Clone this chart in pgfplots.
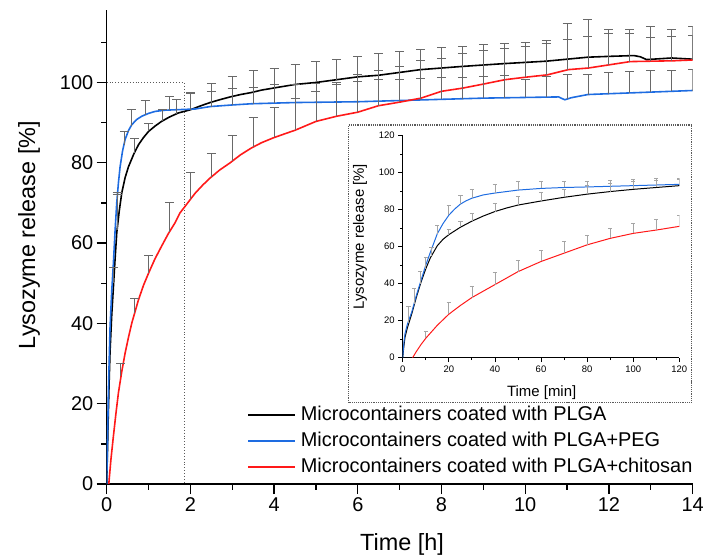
\documentclass[border=0pt]{standalone}
\usepackage{pgfplots}
\pgfplotsset{compat=1.18}
\usepackage{fontspec}
\setmainfont{Liberation Sans}
\definecolor{plgablue}{RGB}{30,108,225}
\definecolor{plgared}{RGB}{255,25,25}
\definecolor{bargray}{RGB}{105,105,105}
\definecolor{insetbar}{RGB}{165,165,165}
\definecolor{boxgray}{RGB}{90,90,90}
\pgfplotsset{
  mainbars/.style={forget plot, draw=none,
    error bars/.cd, y dir=plus, y explicit,
    error bar style={draw=bargray, line width=0.9pt},
    error mark options={rotate=90, draw=bargray, mark size=4.5bp, line width=0.9pt}},
  insetbars/.style={forget plot, draw=none,
    error bars/.cd, y dir=plus, y explicit,
    error bar style={draw=insetbar, line width=0.7pt},
    error mark options={rotate=90, draw=insetbar, mark size=2.2bp, line width=0.7pt}},
}
\begin{document}
\begin{tikzpicture}
\begin{axis}[
  name=main,
  scale only axis,
  width=585.9bp, height=473.8bp,
  xmin=0, xmax=14, ymin=0, ymax=118,
  axis x line=bottom, axis y line=left,
  axis line style={-, line width=1.4pt},
  xtick={0,2,...,14}, minor xtick={1,3,...,13},
  ytick={0,20,...,100}, minor ytick={10,30,...,110},
  tick align=outside,
  major tick length=10bp, minor tick length=5.5bp,
  tick style={black, line width=1.4pt},
  /pgf/number format/assume math mode=true,
  ticklabel style={font=\fontsize{20}{24}\selectfont},
  xlabel={Time [h]}, ylabel={Lysozyme release [\%]},
  label style={font=\fontsize{23.5}{28}\selectfont},
  xlabel style={at={(axis description cs:0.504,-0.1393)}, anchor=base},
  ylabel style={at={(axis description cs:-0.1326,0.5255)}, anchor=center},
  legend style={at={(axis cs:14,2)}, anchor=south east, draw=none, fill=none,
    inner sep=0pt, font=\fontsize{20}{24}\selectfont, row sep=7.8bp, column sep=5bp,
    nodes={inner sep=0pt, text height=14.5bp, text depth=3.5bp}},
  legend cell align=left,
  legend image code/.code={\draw[#1] (0bp,0bp) -- (46.6bp,0bp);},
]
% annotation boxes
\draw[boxgray, dotted, line width=0.9pt] (axis cs:0,100) -- (axis cs:1.85,100) -- (axis cs:1.85,0);
\draw[boxgray, densely dotted, line width=1.2pt] (axis cs:5.77,20.2) rectangle (axis cs:13.98,89.4);

\addplot[black, line width=1.6pt] coordinates {
(0,0) (0.02,9) (0.04,18) (0.06,26) (0.08,33) (0.12,42) (0.16,49) (0.2,56)
(0.24,62.5) (0.3,68) (0.36,72.5) (0.44,76.3) (0.52,79) (0.64,82) (0.76,84.5)
(0.88,86.3) (1.0,87.8) (1.15,89.1) (1.31,90.3) (1.5,91.4) (1.71,92.4) (2.0,93.2)
(2.25,94.2) (2.47,95) (2.7,95.7) (2.95,96.4) (3.2,97) (3.46,97.5) (3.7,98.1)
(3.98,98.6) (4.5,99.5) (5.0,100) (5.5,100.7) (6.0,101.4) (6.5,101.8) (7.0,102.5)
(7.5,103.2) (8.0,103.6) (8.5,104) (9.0,104.35) (9.5,104.7) (10.0,105) (10.5,105.3)
(11.0,105.8) (11.5,106.3) (12.0,106.5) (12.6,106.7) (12.75,106.4) (12.9,105.7)
(13.2,105.9) (13.5,106.1) (14,105.8)};
\addplot[plgablue, line width=1.6pt] coordinates {
(0,0) (0.02,11) (0.04,22.7) (0.06,31) (0.08,39) (0.12,48) (0.16,55) (0.2,63)
(0.24,70) (0.28,75) (0.32,79) (0.38,83) (0.44,85.8) (0.52,88) (0.6,89.5)
(0.72,90.8) (0.84,91.6) (1.0,92.3) (1.16,92.8) (1.4,93.1) (1.64,93.2) (2.12,93.4)
(2.47,94) (3.0,94.4) (3.46,94.7) (4.5,95) (6.0,95.2) (7.5,95.65) (9.0,96.1)
(10.8,96.4) (10.9,95.9) (10.95,95.7) (11.1,96.2) (11.5,97) (12.5,97.4) (14,98)};
\addplot[plgared, line width=1.6pt] coordinates {
(0.05,0) (0.1,6) (0.16,11.9) (0.22,17.5) (0.28,22.7) (0.36,28) (0.44,32.6)
(0.52,36.5) (0.6,40.1) (0.76,45.9) (0.88,49.5) (1.0,52.5) (1.15,56) (1.31,59.2)
(1.47,62.3) (1.63,65) (1.75,67.5) (1.87,69.1) (2.0,70.9) (2.12,72.5) (2.3,74.5)
(2.47,76.2) (2.7,78.2) (2.95,80) (3.2,82) (3.46,83.7) (3.7,85) (3.98,86.2)
(4.25,87.2) (4.5,88.1) (4.75,89.2) (5.0,90.3) (5.5,91.6) (6.0,92.6) (6.49,94.2)
(7.0,95.1) (7.51,96.1) (8.0,97.8) (8.51,98.6) (9.0,99.6) (9.52,100.7) (10.0,101.3)
(10.53,101.9) (11.03,103.2) (11.51,103.6) (12.01,104.4) (12.51,105.2) (13.0,105.3)
(13.54,105.4) (14,105.6)};
\legend{Microcontainers coated with PLGA, Microcontainers coated with PLGA+PEG,
  Microcontainers coated with PLGA+chitosan}

% error bars (upper half only)
\addplot[mainbars] table[x=t, y=y, y error=e] {
t y e
0.167 50 4
0.25 63.3 8.7
0.667 82.5 3.5
1.0 87.8 2.0
1.333 90.4 2.8
1.667 92.2 3.5
2.0 93.2 4.2
2.5 95.1 4.6
3.0 96.5 4.9
3.5 97.6 5.3
4.0 98.6 5.0
4.5 99.5 5.0
5.0 100 5.2
5.5 100.7 5.1
6.0 101.4 5.2
6.5 101.8 5.5
7.0 102.5 5.2
7.5 103.2 5.1
8.0 103.6 5.0
8.5 104 5.0
9.0 104.35 5.05
9.5 104.7 5.1
10.0 105 5.0
10.5 105.3 5.2
11.0 105.8 9.0
11.5 106.3 9.5
12.0 106.5 6.8
12.5 106.7 6.6
13.0 105.8 8.2
13.5 106.1 7.2
14.0 105.8 8.2
};
\addplot[mainbars] table[x=t, y=y, y error=e] {
t y e
0.25 71 1.5
0.417 84.5 3.2
0.583 89.2 4.0
0.917 92 3.5
1.5 93.1 3.4
2.0 93.4 3.8
2.5 94 3.8
3.0 94.3 4.1
3.5 94.7 4.1
4.0 94.85 4.6
4.5 95 4.5
5.0 95.1 4.7
5.5 95.15 4.8
6.0 95.2 5.1
6.5 95.35 5.35
7.0 95.5 5.3
7.5 95.65 5.25
8.0 95.8 5.5
8.5 95.95 5.35
9.0 96.1 5.4
9.5 96.2 5.5
10.0 96.3 4.4
10.5 96.35 5.2
11.0 95.8 6.1
11.5 97 5
12.0 97.2 5.3
12.5 97.4 5.4
13.0 97.6 5.4
13.5 97.8 5.2
14.0 98 5.3
};
\addplot[mainbars] table[x=t, y=y, y error=e] {
t y e
0.333 27 3.1
0.667 42.6 3.7
1.0 52.5 4.5
1.5 62.7 7.3
2.0 70.9 6.7
2.5 76.4 6
3.0 80.4 6.4
3.5 83.9 7.5
4.0 86.3 7.6
4.5 88.1 8
5.0 90.3 7.5
5.5 91.6 7.9
6.0 92.6 9.4
6.5 94.2 8.8
7.0 95.1 8.9
7.5 96.1 9.5
8.0 97.8 8.3
8.5 98.6 8.6
9.0 99.6 8.4
9.5 100.7 7.8
10.0 101.3 7.7
10.5 101.9 7.7
11.0 103.2 7.6
11.5 103.6 7.9
12.0 104.4 7.7
12.5 105.2 6.9
13.0 105.3 6.0
13.5 105.4 6.1
14.0 105.6 6
};
\end{axis}

% inset: first two hours in minutes
\begin{axis}[
  at={(296bp,126.3bp)}, anchor=south west,
  scale only axis, width=276.6bp, height=222bp,
  xmin=0, xmax=120, ymin=0, ymax=120,
  axis x line=bottom, axis y line=left,
  axis line style={-, line width=0.8pt},
  xtick={0,20,...,120}, minor xtick={10,30,...,110},
  ytick={0,20,...,120}, minor ytick={10,30,...,110},
  tick align=outside,
  major tick length=4.5bp, minor tick length=2.5bp,
  tick style={black, line width=0.8pt},
  /pgf/number format/assume math mode=true,
  ticklabel style={font=\fontsize{9.5}{11}\selectfont},
  xlabel={Time [min]}, ylabel={Lysozyme release [\%]},
  label style={font=\fontsize{15}{18}\selectfont},
  xlabel style={at={(axis description cs:0.5025,-0.1757)}, anchor=base},
  ylabel style={at={(axis description cs:-0.1544,0.545)}, anchor=center},
]
\addplot[black, line width=1pt] coordinates {
(0,0) (0.5,6) (1,11) (2,16) (3,20) (4,24) (6,33) (8,41) (10,48) (12,54) (15,60.5)
(17.5,64) (20,66.5) (25,70.5) (30,73.8) (35,76.6) (40,79) (45,80.9) (50,82.5)
(60,84.7) (70,86.7) (80,88.4) (90,89.8) (100,91) (110,92) (120,93)};
\addplot[plgablue, line width=1pt] coordinates {
(0,0) (0.5,8) (1,13) (2,18) (4,25) (6,34) (8,42) (10,50) (12,57) (15,67) (17.5,72.5)
(20,77) (22.5,80.3) (25,83) (27.5,84.8) (30,86.2) (35,88) (40,89) (50,90.6)
(60,91.5) (70,92) (80,92.3) (100,93) (120,93.7)};
\addplot[plgared, line width=1pt] coordinates {
(4.3,0) (6,3.5) (8,7.2) (10,10.5) (15,17.5) (20,23.5) (25,28.2) (30,32.5) (40,39.5)
(50,46.5) (60,52) (70,56.5) (80,61) (90,64.5) (100,67.2) (110,69) (120,71)};

\addplot[insetbars] table[x=t, y=y, y error=e] {
t y e
2.5 19 8.5
5 29 8.5
7.5 40 6.5
10 48 6.3
12.5 55 4.7
20 66.5 3
25 70.5 3.4
30 73.8 4
40 79 4.5
50 82.5 4.5
60 84.7 4.5
70 86.7 4.5
80 88.4 4.5
90 89.8 4.5
100 91 4.5
110 92 4
120 93 3.5
};
\addplot[insetbars] table[x=t, y=y, y error=e] {
t y e
15 67 4.7
20 77 5.3
25 83 5
30 86.2 4.6
40 89 4.9
50 90.6 4.5
60 91.5 4
70 92 3.5
80 92.3 3.2
90 92.6 3.4
100 93 3.4
110 93.3 3.6
120 93.7 3.2
};
\addplot[insetbars] table[x=t, y=y, y error=e] {
t y e
10 10.5 3.8
20 23.5 6.3
30 32.5 6
40 39.5 6.4
50 46.5 6.3
60 52 6.2
70 56.5 6.2
80 61 5.3
90 64.5 5.4
100 67.2 5.4
110 69 6
120 71 6.1
};
\end{axis}
\pgfresetboundingbox
\path[use as bounding box] (-106.7bp,-76bp) rectangle (601.3bp,484bp);
\end{tikzpicture}
\end{document}
